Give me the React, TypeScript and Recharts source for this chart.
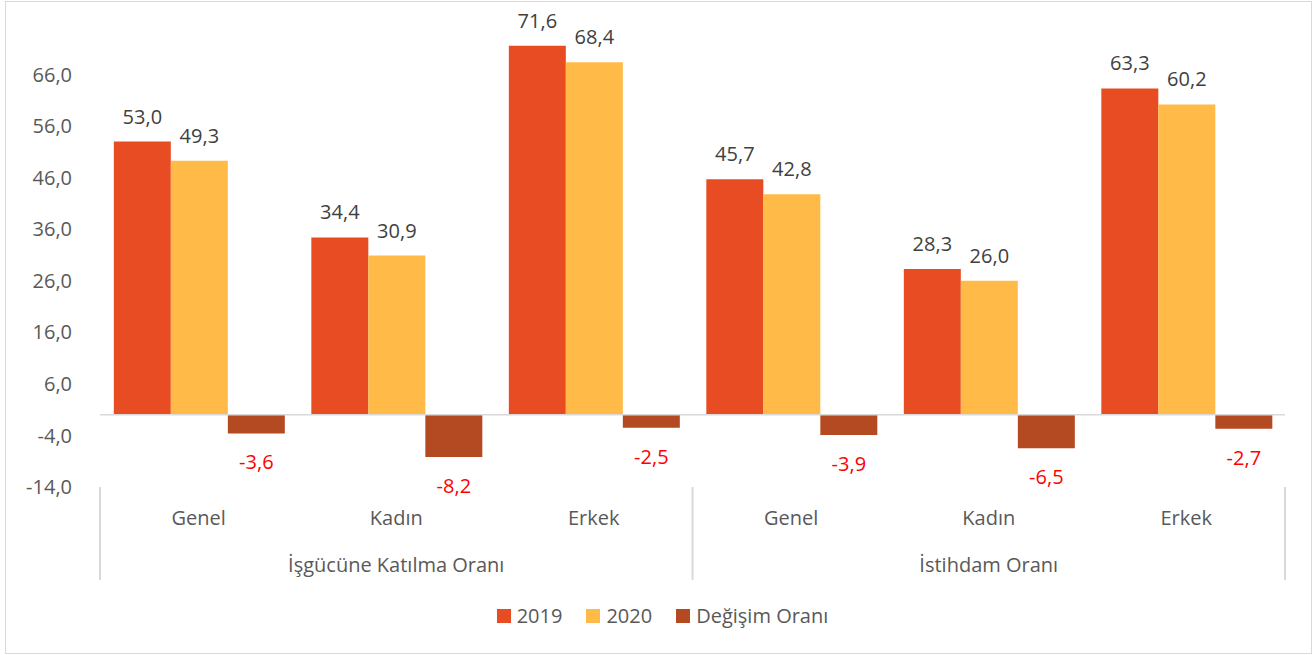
import React from 'react';
import { BarChart, Bar, XAxis, YAxis, Legend, ReferenceLine, LabelList } from 'recharts';

const categories = ['Genel', 'Kadın', 'Erkek', 'Genel', 'Kadın', 'Erkek'];
const groups = ['İşgücüne Katılma Oranı', 'İşgücüne Katılma Oranı', 'İşgücüne Katılma Oranı', 'İstihdam Oranı', 'İstihdam Oranı', 'İstihdam Oranı'];
const values2019 = [53.0, 34.4, 71.6, 45.7, 28.3, 63.3];
const values2020 = [49.3, 30.9, 68.4, 42.8, 26.0, 60.2];
const valuesChange = [-3.6, -8.2, -2.5, -3.9, -6.5, -2.7];
const yTicks = [-14, -4, 6, 16, 26, 36, 46, 56, 66];

const data = categories.map((c, i) => ({
  cat: c,
  group: groups[i],
  y2019: values2019[i],
  y2020: values2020[i],
  change: valuesChange[i],
}));

const W = 1315;
const H = 655;
const M = { top: 23, right: 30, bottom: 0, left: 0 };
const Y_W = 100;
const BAND = (W - M.left - M.right - Y_W) / categories.length;
const FONT = '"Open Sans", "Noto Sans", sans-serif';
const FS = 20;
const fmt = (v: number) => v.toFixed(1).replace('.', ',');

const XTick = (props: any) => {
  const { x, y, payload, index } = props;
  const i = index;
  const lines: React.ReactNode[] = [];
  if (i === 0 || i === 3) {
    lines.push(<line key="l" x1={x - BAND / 2} x2={x - BAND / 2} y1={y} y2={y + 93} stroke="#D9D9D9" strokeWidth={2} />);
  }
  if (i === categories.length - 1) {
    lines.push(<line key="r" x1={x + BAND / 2} x2={x + BAND / 2} y1={y} y2={y + 93} stroke="#D9D9D9" strokeWidth={2} />);
  }
  return (
    <g>
      {lines}
      <text x={x} y={y + 38} textAnchor="middle" fill="#595959" fontSize={FS} fontFamily={FONT}>{payload.value}</text>
      {(i === 1 || i === 4) && (
        <text x={x} y={y + 85} textAnchor="middle" fill="#595959" fontSize={FS} fontFamily={FONT}>{groups[i]}</text>
      )}
    </g>
  );
};

const NegLabel = (props: any) => {
  const { x, y, width, height, value } = props;
  const bottom = Math.max(y, y + height);
  return (
    <text x={x + width / 2} y={bottom + 36} textAnchor="middle" fill="#FF0000" fontSize={FS} fontFamily={FONT}>{fmt(value)}</text>
  );
};

const LegendContent = (props: any) => {
  const { payload } = props;
  return (
    <div style={{ display: 'flex', justifyContent: 'center', alignItems: 'center', gap: 24, paddingLeft: 40, fontFamily: FONT, fontSize: FS, color: '#595959' }}>
      {(payload || []).map((p: any) => (
        <div key={p.value} style={{ display: 'flex', alignItems: 'center', gap: 6 }}>
          <span style={{ width: 14, height: 14, background: p.color, display: 'inline-block' }} />
          <span>{p.value}</span>
        </div>
      ))}
    </div>
  );
};

export default function App() {
  return (
    <div style={{ position: 'absolute', left: 0, top: 0, width: W, height: H, background: '#fff' }}>
      <div style={{ position: 'absolute', left: 5, top: 1, width: 1307, height: 653, border: '1px solid #D9D9D9', boxSizing: 'border-box' }} />
      <BarChart width={W} height={H} data={data} margin={M} barCategoryGap="7%" barGap={0}>
        <XAxis dataKey="cat" axisLine={false} tickLine={false} tickSize={0} tickMargin={0} height={93} interval={0} tick={<XTick />} />
        <YAxis
          width={Y_W}
          domain={[-14, 76]}
          ticks={yTicks}
          axisLine={false}
          tickLine={false}
          tickMargin={22}
          tickFormatter={fmt}
          tick={{ fill: '#595959', fontSize: FS, fontFamily: FONT }}
        />
        <ReferenceLine y={0} stroke="#D9D9D9" strokeWidth={1.5} />
        <Legend
          verticalAlign="bottom"
          content={<LegendContent />}
          wrapperStyle={{ paddingTop: 22, height: 75, boxSizing: 'border-box' }}
        />
        <Bar dataKey="y2019" name="2019" fill="#E84C22" isAnimationActive={false}>
          <LabelList dataKey="y2019" position="top" offset={18} formatter={(v: any) => fmt(Number(v))} fill="#404040" fontSize={FS} fontFamily={FONT} />
        </Bar>
        <Bar dataKey="y2020" name="2020" fill="#FFBA47" isAnimationActive={false}>
          <LabelList dataKey="y2020" position="top" offset={18} formatter={(v: any) => fmt(Number(v))} fill="#404040" fontSize={FS} fontFamily={FONT} />
        </Bar>
        <Bar dataKey="change" name="Değişim Oranı" fill="#B44A22" isAnimationActive={false}>
          <LabelList dataKey="change" content={<NegLabel />} />
        </Bar>
      </BarChart>
    </div>
  );
}
